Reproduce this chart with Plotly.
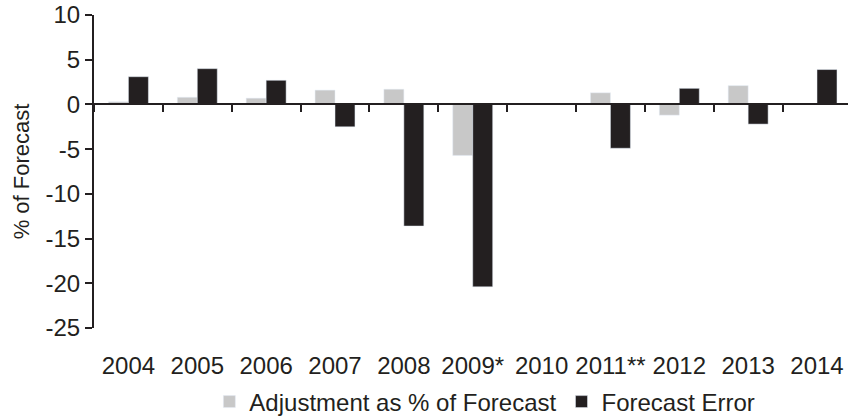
import plotly.graph_objects as go

years = ['2004', '2005', '2006', '2007', '2008', '2009*', '2010', '2011**', '2012', '2013', '2014']
adjustment = [0.3, 0.8, 0.7, 1.6, 1.7, -5.7, 0.0, 1.3, -1.2, 2.1, 0.0]
forecast_error = [3.1, 4.0, 2.7, -2.5, -13.6, -20.4, 0.0, -4.9, 1.8, -2.2, 3.9]
y_ticks = [10, 5, 0, -5, -10, -15, -20, -25]

ink = '#231f20'
font_name = 'Liberation Sans, Arial, sans-serif'

fig = go.Figure()
fig.add_trace(go.Bar(
    x=years, y=adjustment,
    name='Adjustment as % of Forecast',
    marker_color='#c8c8c8',
))
fig.add_trace(go.Bar(
    x=years, y=forecast_error,
    name='Forecast Error',
    marker_color=ink,
))
# invisible trace so the zero-line axis gets its categories
fig.add_trace(go.Scatter(
    x=years, y=adjustment,
    xaxis='x2', mode='markers',
    marker=dict(opacity=0),
    showlegend=False, hoverinfo='skip',
))

fig.update_layout(
    width=848, height=418,
    margin=dict(l=94, r=0, t=15, b=90, autoexpand=False),
    paper_bgcolor='white',
    plot_bgcolor='white',
    font=dict(family=font_name, size=24, color=ink),
    barmode='group',
    bargap=0.42,
    bargroupgap=0,
    xaxis=dict(
        type='category',
        range=[-0.5, 10.45],
        showline=False,
        showgrid=False,
        zeroline=False,
        ticks='',
        ticklabelstandoff=21,
        tickfont=dict(size=24),
    ),
    xaxis2=dict(
        type='category',
        overlaying='x',
        matches='x',
        anchor='free',
        position=25 / 35,
        side='bottom',
        showline=True,
        linecolor=ink,
        linewidth=2,
        ticks='outside',
        tickson='boundaries',
        ticklen=7,
        tickwidth=2,
        tickcolor=ink,
        showticklabels=False,
        showgrid=False,
        zeroline=False,
    ),
    yaxis=dict(
        range=[-25, 10],
        tickmode='array',
        tickvals=y_ticks,
        ticktext=[str(v) for v in y_ticks],  # plain hyphen, like the original
        showline=True,
        linecolor=ink,
        linewidth=2,
        ticks='outside',
        ticklen=7,
        tickwidth=2,
        tickcolor=ink,
        showgrid=False,
        zeroline=False,
        tickfont=dict(size=24),
        title=dict(text='% of Forecast', font=dict(size=22), standoff=10),
    ),
    legend=dict(
        orientation='h',
        x=0.153, xanchor='left',
        y=-74 / 313, yanchor='middle',
        font=dict(size=24),
        bgcolor='rgba(0,0,0,0)',
    ),
    showlegend=True,
)

fig.write_html('out.html', config={'displayModeBar': False},
               post_script="document.body.style.margin='0px';")
